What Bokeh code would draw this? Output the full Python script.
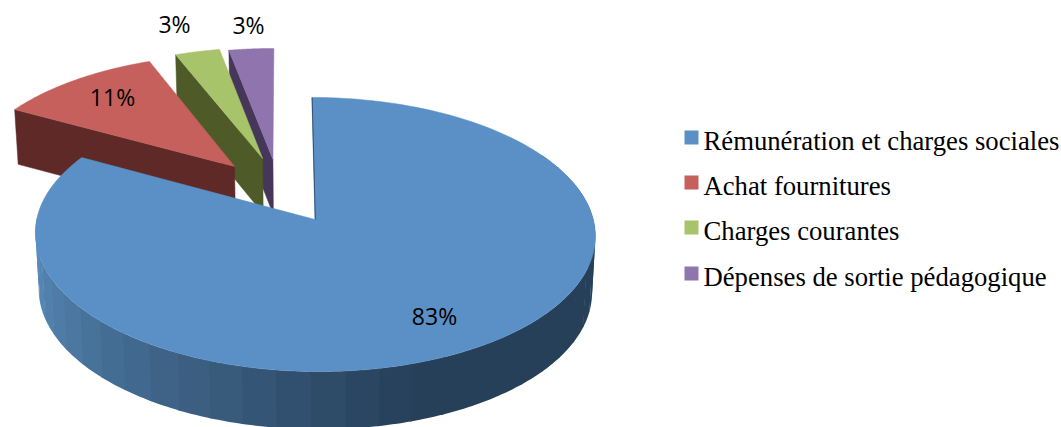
from bokeh.plotting import figure
from bokeh.embed import file_html
from bokeh.resources import INLINE
from bokeh.core.properties import value
from bokeh.models import Range1d
import numpy as np

categories = ["Rémunération et charges sociales", "Achat fournitures", "Charges courantes", "Dépenses de sortie pédagogique"]
shares = [83, 11, 3, 3]
share_labels = ["83%", "11%", "3%", "3%"]
top_colors = ["#5b90c6", "#c6605c", "#a8c46b", "#8f74ad"]
side_colors = ["#27405a", "#5e2927", "#4e5a28", "#45365a"]
explode = [(0.0, 0.0), (-0.297, 0.409), (-0.192, 0.474), (-0.153, 0.466)]

W, H = 1061, 427
CX, CY, A, B, K, SH = 314.5, 219.0, 278.3, 135.4, 0.1095, -3.5
A2, B2, D = 275.0, 137.0, 56.0

def top(u, v):
    u, v = np.asarray(u, float), np.asarray(v, float)
    d = 1 + K * v
    return CX + (A * u + SH * v) / d, CY - B * v / d

def bot(u, v):
    u, v = np.asarray(u, float), np.asarray(v, float)
    d = 1 + K * v
    return CX + (A2 * u + SH * v) / d, CY + D - B2 * v / d

def arc(t0, t1, off, n=80):
    th = np.radians(np.linspace(t0, t1, n))
    return off[0] + np.sin(th), off[1] + np.cos(th)

p = figure(width=W, height=H, x_range=Range1d(0, W), y_range=Range1d(H, 0),
           output_backend="svg", toolbar_location=None, min_border=0,
           outline_line_color=None, border_fill_color="white")
p.axis.visible = False
p.grid.visible = False

cum = np.cumsum([0] + shares) / sum(shares) * 360.0
spans = list(zip(cum[:-1], cum[1:]))

# exploded slices, back to front
for i in (3, 2, 1):
    t0, t1 = spans[i]
    off = explode[i]
    u = np.array([off[0], off[0] + np.sin(np.radians(t0))])
    v = np.array([off[1], off[1] + np.cos(np.radians(t0))])
    xt, yt = top(u, v)
    xb, yb = bot(u, v)
    p.patch(list(xt) + list(xb[::-1]), list(yt) + list(yb[::-1]),
            fill_color=side_colors[i], line_color=side_colors[i], line_width=0.5)
    au, av = arc(t0, t1, off)
    xa, ya = top(au, av)
    ox, oy = top([off[0]], [off[1]])
    p.patch(list(ox) + list(xa), list(oy) + list(ya),
            fill_color=top_colors[i], line_color=top_colors[i], line_width=0.5)

# main slice: outer wall as shaded bands
t0, t1 = spans[0]
start_c = np.array([0x27, 0x40, 0x5a], float)
end_c = np.array([0x58, 0x8b, 0xba], float)
edges = np.linspace(t0 + 60, 271, 34)
flat_end = 163.0
for a, b in zip(edges[:-1], edges[1:]):
    mid = (a + b) / 2
    f = np.clip((mid - flat_end) / (262 - flat_end), 0, 1)
    c = start_c + (end_c - start_c) * f
    colr = "#%02x%02x%02x" % tuple(int(x) for x in c)
    au, av = arc(a, b + 0.4, (0, 0), 8)
    xt, yt = top(au, av)
    xb, yb = bot(au, av)
    p.patch(list(xt) + list(xb[::-1]), list(yt) + list(yb[::-1]),
            fill_color=colr, line_color=None)

# main slice top face
au, av = arc(t0, t1, (0, 0), 200)
xa, ya = top(au, av)
ox, oy = top([0.0], [0.0])
p.patch(list(ox) + list(xa), list(oy) + list(ya),
        fill_color=top_colors[0], line_color=top_colors[0], line_width=0.5)
xl, yl = top([0.0, 0.0], [0.0, 1.0])
p.line(xl + 0.3, yl, line_color=side_colors[0], line_width=0.8)

# data labels
lab_x = [434, 112, 174, 248]
lab_y = [315, 96, 23, 24]
p.text(lab_x, lab_y, text=share_labels, text_font=value("Open Sans"),
       text_font_size="23px", text_color="black",
       text_align="center", text_baseline="middle")

# legend
leg_y = [140, 185, 230, 276]
for c, cat, y in zip(top_colors, categories, leg_y):
    p.rect([691], [y - 3], width=14, height=14, fill_color=c, line_color=None)
    p.text([703], [y], text=[cat], text_font=value("Liberation Serif"),
           text_font_size="26.7px", text_color="black",
           text_align="left", text_baseline="middle")

open("out.html", "w").write(file_html(p, INLINE))
